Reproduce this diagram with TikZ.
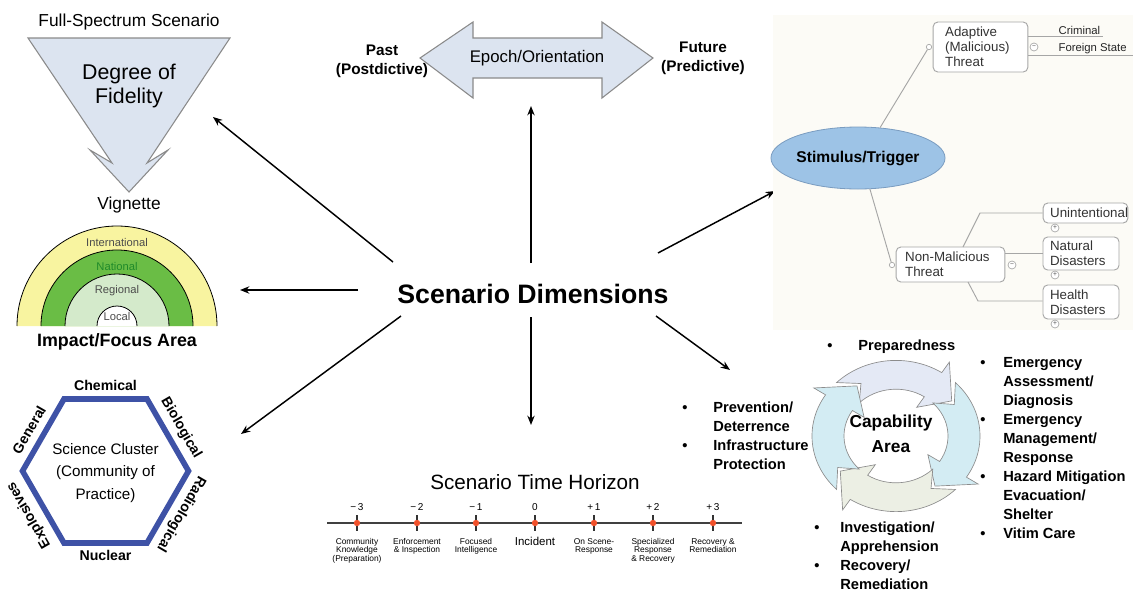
\documentclass[tikz,border=0pt]{standalone}
\usepackage{fontspec}
\setmainfont{Liberation Sans}
\usetikzlibrary{arrows.meta,calc,shapes.geometric}

\definecolor{triFill}{HTML}{DCE4F0}
\definecolor{triLine}{HTML}{8A8A8A}
\definecolor{ringY}{HTML}{F8F4A0}
\definecolor{ringG}{HTML}{6ABD45}
\definecolor{ringLG}{HTML}{D4EACB}
\definecolor{natGreen}{HTML}{1F8A2A}
\definecolor{hexBlue}{HTML}{3E52A6}
\definecolor{stimBlue}{HTML}{9DC3E6}
\definecolor{stimLine}{HTML}{7A9CC0}
\definecolor{panelBg}{HTML}{FCFBF6}
\definecolor{treeLine}{HTML}{A6A6A6}
\definecolor{cycTop}{HTML}{E4E9F5}
\definecolor{cycSide}{HTML}{D3ECF3}
\definecolor{cycBot}{HTML}{ECEFE4}
\definecolor{cycLine}{HTML}{8C8C8C}
\definecolor{tickRed}{HTML}{F0502A}
\definecolor{tickDark}{HTML}{333333}

\newcommand\fsz[2]{\fontsize{#1}{#2}\selectfont}
% one segment of the capability cycle:
% previous head base, previous tip, own head base, own tip, fill
\newcommand\cycarrow[5]{%
  \filldraw[fill=#5, draw=cycLine, line width=0.5pt, line join=miter]
    ({#1-12}:84) arc[start angle={#1-12}, end angle=#3, radius=84]
    -- (#3:98) -- (#4:68) -- (#3:38) -- (#3:52)
    arc[start angle=#3, end angle={#1-12}, radius=52]
    -- ({#2-4}:68) -- cycle;}

\begin{document}
\begin{tikzpicture}[x=0.75pt, y=-0.75pt,
  conn/.style={-{Stealth[length=7pt,width=5.5pt]}, line width=1.1pt},
  tline/.style={draw=treeLine, line width=0.7pt},
  tbox/.style={draw=treeLine, fill=white, rounded corners=3.5pt, line width=0.7pt,
    align=left, inner ysep=0pt, text=black!80, font=\fsz{10}{11.3}},
  knob/.style={circle, draw=treeLine, fill=white, line width=0.5pt, inner sep=0pt,
    minimum size=6pt, font=\fsz{5}{5}, text=black!70},
  joint/.style={circle, draw=treeLine, fill=white, line width=0.5pt, inner sep=0pt,
    minimum size=4pt},
  leaf/.style={font=\fsz{8.5}{10}, text=black!85, inner sep=1pt, anchor=south west},
  hexlbl/.style={font=\fsz{10.6}{12}\bfseries, inner sep=0pt},
  ringlbl/.style={font=\fsz{8.4}{10}, text=black!70, inner sep=0pt},
  bul/.style={font=\fsz{11}{14.3}\bfseries, anchor=north, inner sep=0pt},
  item/.style={font=\fsz{11}{14.3}\bfseries, anchor=north west, align=left, inner sep=0pt},
  tnum/.style={font=\fsz{7.5}{9}, inner sep=0pt},
  tcap/.style={font=\fsz{6.3}{6.4}, align=center, anchor=north, inner sep=0pt},
  side/.style={font=\fsz{11.5}{14.5}\bfseries, align=center, inner sep=0pt},
]
\useasboundingbox (0,0) rectangle (1133,593);

% ---------- Degree of fidelity (down arrow) ----------
\draw[triLine, fill=triFill, line width=0.8pt, line join=miter]
  (28,38) -- (230,38) -- (147,163) -- (168,150) -- (129,192) -- (90,150) -- (112,163) -- cycle;
\node[font=\fsz{13}{15}] (fss) at (129,22) {Full-Spectrum Scenario};
\node[font=\fsz{16}{17.3}, align=center] (dof) at (129,86) {Degree of\\Fidelity};
\node[font=\fsz{13}{15}] (vig) at (129,205) {Vignette};

% ---------- Impact / focus rings ----------
\begin{scope}[shift={(117,326)}, yscale=-1]
  \fill[ringY]  (-100,0) arc[start angle=180, end angle=0, radius=100] -- cycle;
  \fill[ringG]  (-76,0)  arc[start angle=180, end angle=0, radius=76]  -- cycle;
  \fill[ringLG] (-52,0)  arc[start angle=180, end angle=0, radius=52]  -- cycle;
  \fill[white]  (-20,0)  arc[start angle=180, end angle=0, radius=20]  -- cycle;
  \draw[line width=0.6pt] (-100,0) arc[start angle=180, end angle=0, radius=100];
  \draw[line width=0.6pt] (-76,0)  arc[start angle=180, end angle=0, radius=76];
  \draw[line width=0.6pt] (-52,0)  arc[start angle=180, end angle=0, radius=52];
  \draw[line width=0.6pt] (-20,0)  arc[start angle=180, end angle=0, radius=20];
\end{scope}
\node[ringlbl] (intl) at (117,242) {International};
\node[ringlbl, text=natGreen] (natl) at (117,266) {National};
\node[ringlbl] (regl) at (117,291) {Regional};
\node[ringlbl] (locl) at (117,316) {Local};
\node[font=\fsz{13.4}{15}\bfseries] (ifa) at (117,342) {Impact/Focus Area};

% ---------- Science cluster hexagon ----------
\draw[hexBlue, line width=4.2pt, line join=miter]
  (188.5,471) -- (147,399) -- (64,399) -- (22.5,471) -- (64,543) -- (147,543) -- cycle;
\node[font=\fsz{11.4}{17}, align=center] (sci) at (105.5,473)
  {Science Cluster\\(Community of\\Practice)};
\node[hexlbl] (chem) at (105.5,385) {Chemical};
\node[hexlbl, rotate=-60] (bio) at (181,428) {Biological};
\node[hexlbl, rotate=-120] (rad) at (181,514) {Radiological};
\node[hexlbl, rotate=120] (expl) at (29,515) {Explosives};
\node[hexlbl, rotate=60] (gen) at (29,430) {General};
\node[hexlbl] (nuc) at (105.5,555) {Nuclear};

% ---------- Epoch / orientation ----------
\draw[triLine, fill=triFill, line width=0.8pt, line join=miter]
  (420,58) -- (473,22) -- (473,38) -- (602,38) -- (602,22) -- (653,58)
  -- (602,98) -- (602,78) -- (473,78) -- (473,98) -- cycle;
\node[font=\fsz{12.6}{15}] (epoch) at (537,58) {Epoch/Orientation};
\node[side] (past) at (382,61) {Past\\(Postdictive)};
\node[side] (fut) at (703,58) {Future\\(Predictive)};

% ---------- Centre and spokes ----------
\node[font=\fsz{20}{24}\bfseries, inner sep=0pt] (sd) at (533,294) {Scenario Dimensions};
\coordinate (sUp)  at (531,263);  \coordinate (tUp)  at (531,106);
\coordinate (sDn)  at (531,317);  \coordinate (tDn)  at (531,425);
\coordinate (sUL)  at (393,262);  \coordinate (tUL)  at (213,117);
\coordinate (sL)   at (358,290);  \coordinate (tL)   at (240,290);
\coordinate (sLL)  at (401,316);  \coordinate (tLL)  at (241,434);
\coordinate (sUR)  at (658,253);  \coordinate (tUR)  at (775,191);
\coordinate (sLR)  at (656,316);  \coordinate (tLR)  at (730,370);
\draw[conn] (sUp) -- (tUp);
\draw[conn] (sDn) -- (tDn);
\draw[conn] (sUL) -- (tUL);
\draw[conn] (sL)  -- (tL);
\draw[conn] (sLL) -- (tLL);
\draw[conn] (sUR) -- (tUR);
\draw[conn] (sLR) -- (tLR);

% ---------- Stimulus / trigger tree ----------
\fill[panelBg] (773,15) rectangle (1133,330);
\node[ellipse, fill=stimBlue, draw=stimLine, line width=0.6pt, minimum width=116pt,
  minimum height=46.5pt, inner sep=0pt, font=\fsz{11.7}{14}\bfseries] (stim) at (858,158)
  {Stimulus/Trigger};

\node[tbox, text width=53pt, inner xsep=9pt, minimum height=37.5pt] (adapt) at (980.5,47)
  {Adaptive\\(Malicious)\\Threat};
\node[joint] (jA) at (929,47) {};
\node[knob] (mA) at (1034,47) {−};
\coordinate (crimR) at (1103,36);
\coordinate (forR) at (1133,55);
\draw[tline] (stim.54) -- (jA);
\draw[tline] (adapt.east |- crimR) -- (crimR);
\draw[tline] (adapt.east |- forR) -- (forR);
\node[leaf] (crim) at (1057,36) {Criminal};
\node[leaf] (forst) at (1057,55) {Foreign State};

\node[tbox, text width=68pt, inner xsep=6.75pt, minimum height=26.25pt] (nonmal) at (950.5,264.5)
  {Non-Malicious\\Threat};
\node[joint] (jN) at (892,265) {};
\node[knob] (mN) at (1012,265) {−};
\draw[tline] (stim.-69) -- (jN);

\node[tbox, text width=53pt, inner xsep=5.25pt, minimum height=15pt] (unint) at (1085.5,213)
  {Unintentional};
\node[tbox, text width=46.5pt, inner xsep=5.25pt, minimum height=24.75pt] (natd) at (1081,253.5)
  {Natural\\Disasters};
\node[tbox, text width=46.5pt, inner xsep=5.25pt, minimum height=25.5pt] (heal) at (1081,302)
  {Health\\Disasters};
\node[knob] (pU) at (1055,228) {+};
\node[knob] (pN) at (1055,275) {+};
\node[knob] (pH) at (1055,324) {+};
\draw[tline] (963,247) -- (980,213) -- (unint.west);
\draw[tline] (nonmal.east |- 0,253) -- (natd.west |- 0,253);
\draw[tline] (968,282) -- (978,301) -- (heal.west |- 0,301);

% ---------- Capability cycle ----------
\begin{scope}[shift={(896,436)}, yscale=-0.9]
  \cycarrow{147}{125}{57}{35}{cycTop}
  \cycarrow{57}{35}{-33}{-55}{cycSide}
  \cycarrow{-33}{-55}{-123}{-145}{cycBot}
  \cycarrow{-123}{-145}{-213}{-235}{cycSide}
\end{scope}
\node[font=\fsz{13}{18.75}\bfseries, align=center] (cap) at (891,434) {Capability\\Area};

\node[bul] (b0) at (830,337) {\strut\textbullet};
\node[item] (i0) at (858,337) {\strut Preparedness};

\node[bul] (b1) at (685,399) {\strut\textbullet};
\node[item] (i1) at (713,399) {\strut Prevention/\\Deterrence};
\node[bul] (b2) at (685,437) {\strut\textbullet};
\node[item] (i2) at (713,437) {\strut Infrastructure\\Protection};

\node[bul] (b3) at (817,519) {\strut\textbullet};
\node[item] (i3) at (840,519) {\strut Investigation/\\Apprehension};
\node[bul] (b4) at (817,557) {\strut\textbullet};
\node[item] (i4) at (840,557) {\strut Recovery/\\Remediation};

\node[bul] (b5) at (983,354) {\strut\textbullet};
\node[item] (i5) at (1003,354) {\strut Emergency\\Assessment/\\Diagnosis};
\node[bul] (b6) at (983,411) {\strut\textbullet};
\node[item] (i6) at (1003,411) {\strut Emergency\\Management/\\Response};
\node[bul] (b7) at (983,468) {\strut\textbullet};
\node[item] (i7) at (1003,468) {\strut Hazard Mitigation\\Evacuation/\\Shelter};
\node[bul] (b8) at (983,525) {\strut\textbullet};
\node[item] (i8) at (1003,525) {\strut Vitim Care};

% ---------- Scenario time horizon ----------
\node[font=\fsz{15.5}{18}] (sth) at (535,482) {Scenario Time Horizon};
\coordinate (axL) at (327,523);
\coordinate (axR) at (742,523);
\draw[line width=1.1pt, black!75] (axL) -- (axR);
\foreach \x in {357,417,476,535,594,653,713}{
  \draw[line width=1.6pt, tickDark] (\x,515) -- (\x,531);
  \fill[tickRed] (\x,523) circle[radius=3.2];
}
\node[tnum] (n1) at (357,507) {−\,3};
\node[tnum] (n2) at (417,507) {−\,2};
\node[tnum] (n3) at (476,507) {−\,1};
\node[tnum] (n4) at (535,507) {0};
\node[tnum] (n5) at (594,507) {+\,1};
\node[tnum] (n6) at (653,507) {+\,2};
\node[tnum] (n7) at (713,507) {+\,3};
\node[tcap] (c1) at (357,538) {Community\\Knowledge\\(Preparation)};
\node[tcap] (c2) at (417,538) {Enforcement\\\& Inspection};
\node[tcap] (c3) at (476,538) {Focused\\Intelligence};
\node[font=\fsz{8.6}{10}, inner sep=0pt] (c4) at (535,541) {Incident};
\node[tcap] (c5) at (594,538) {On Scene-\\Response};
\node[tcap] (c6) at (653,538) {Specialized\\Response\\\& Recovery};
\node[tcap] (c7) at (713,538) {Recovery \&\\Remediation};
\end{tikzpicture}
\end{document}
